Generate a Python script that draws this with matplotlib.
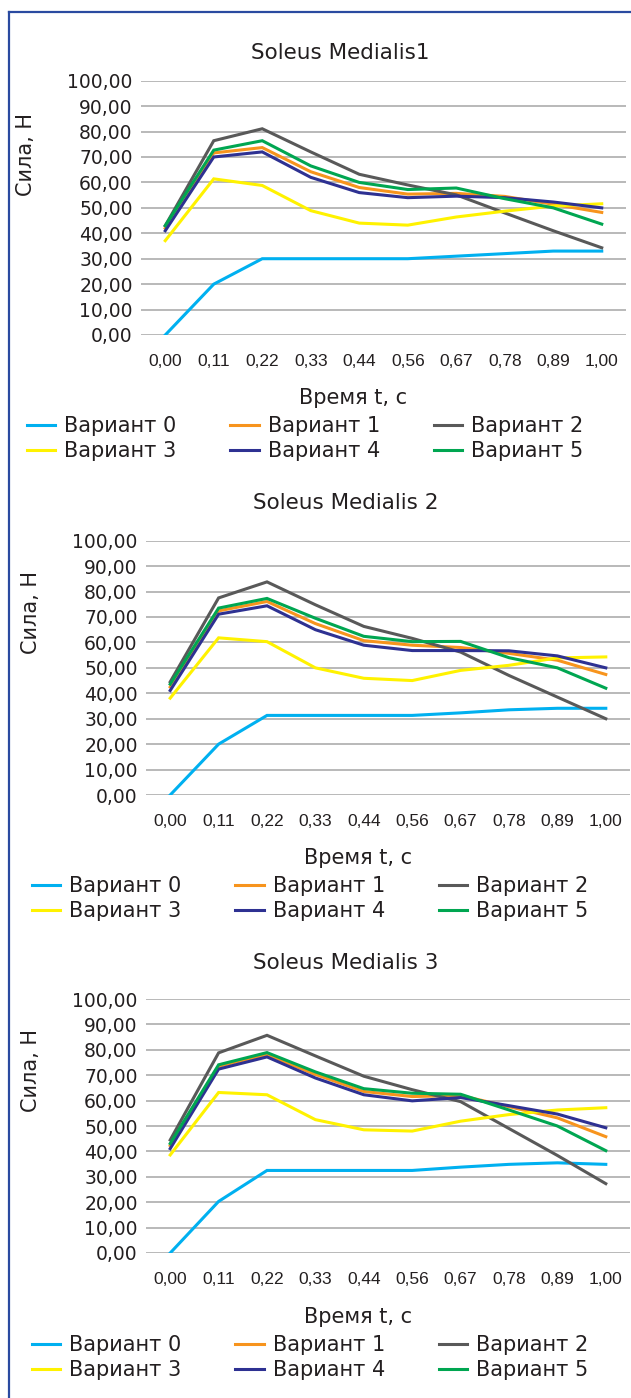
import matplotlib
matplotlib.use('Agg')
import matplotlib.pyplot as plt
from matplotlib.lines import Line2D

plt.rcParams['font.family'] = ['DejaVu Sans']

time_labels = ['0,00', '0,11', '0,22', '0,33', '0,44', '0,56', '0,67', '0,78', '0,89', '1,00']
y_ticks = [0, 10, 20, 30, 40, 50, 60, 70, 80, 90, 100]
y_tick_labels = ['0,00', '10,00', '20,00', '30,00', '40,00', '50,00',
                 '60,00', '70,00', '80,00', '90,00', '100,00']
variant_names = ['Вариант 0', 'Вариант 1', 'Вариант 2', 'Вариант 3', 'Вариант 4', 'Вариант 5']
titles = ['Soleus Medialis1', 'Soleus Medialis 2', 'Soleus Medialis 3']

# Soleus Medialis 1
sm1_v0 = [0, 20, 30, 30, 30, 30, 31, 32, 33, 33]
sm1_v1 = [42, 71.6, 73.7, 64.2, 58, 55.4, 55.7, 54.5, 51.4, 48.2]
sm1_v2 = [43, 76.4, 81.1, 72, 63.2, 59, 55.1, 48, 41, 34.3]
sm1_v3 = [37.1, 61.4, 58.8, 48.9, 44, 43.2, 46.4, 48.7, 50.7, 51.6]
sm1_v4 = [41, 70, 72, 62, 56, 54, 54.6, 54, 52.3, 50]
sm1_v5 = [43, 72.7, 76.4, 66.5, 60, 57.2, 57.8, 53.6, 50, 43.6]

# Soleus Medialis 2
sm2_v0 = [0, 20, 31.3, 31.3, 31.3, 31.3, 32.3, 33.5, 34.1, 34.1]
sm2_v1 = [42.5, 72.4, 76.1, 67.4, 60.7, 58.9, 58, 55.7, 53, 47.4]
sm2_v2 = [44.5, 77.5, 83.8, 74.8, 66.3, 61.6, 56.2, 47, 38.5, 30]
sm2_v3 = [38.1, 61.8, 60.3, 50, 45.9, 45, 49, 51, 53.9, 54.3]
sm2_v4 = [41.1, 71.1, 74.4, 65, 58.9, 56.8, 56.8, 56.7, 54.7, 50]
sm2_v5 = [43.6, 73.5, 77.3, 69.5, 62.4, 60.3, 60.4, 54, 50, 42]

# Soleus Medialis 3
sm3_v0 = [0, 20.3, 32.5, 32.5, 32.5, 32.5, 33.8, 34.9, 35.5, 34.9]
sm3_v1 = [42.3, 73.5, 78.1, 70.3, 63.6, 61.6, 62, 57.6, 53.2, 45.8]
sm3_v2 = [44.5, 78.8, 85.7, 77.6, 69.6, 64.3, 59.6, 49, 38.4, 27.3]
sm3_v3 = [38.6, 63.2, 62.3, 52.5, 48.5, 48, 51.9, 54.5, 56.3, 57.2]
sm3_v4 = [41.1, 72.4, 77.2, 68.9, 62.3, 59.9, 61.2, 58, 54.7, 49.3]
sm3_v5 = [43.1, 74.1, 78.9, 71.3, 64.7, 62.9, 62.5, 56.3, 50, 40.3]

panels = [
    [sm1_v0, sm1_v1, sm1_v2, sm1_v3, sm1_v4, sm1_v5],
    [sm2_v0, sm2_v1, sm2_v2, sm2_v3, sm2_v4, sm2_v5],
    [sm3_v0, sm3_v1, sm3_v2, sm3_v3, sm3_v4, sm3_v5],
]
colors = ['#00b0f0', '#f7941d', '#595959', '#fff200', '#2e3192', '#00a651']

W, H = 631, 1398
fig = plt.figure(figsize=(W / 100, H / 100), dpi=100)

def fx(px):
    return px / W

def fy(py):
    return 1 - py / H

# layout in pixels: (left, right, top of 100, bottom at 0, title y, title x, xlabel x, xlabel y, ylabel x, ylabel y, legend x, legend top)
layout = [
    (141, 626, 80.7, 335, 53, 340, 353, 398, 26, 155, 27, 416),
    (146, 630, 540.7, 795, 503, 346, 358, 858, 31, 613, 32, 876),
    (146, 630, 999, 1253, 963, 346, 358, 1317, 31, 1070, 32, 1335),
]

for series, title, lay in zip(panels, titles, layout):
    left, right, top, bottom, ty, tx, xlx, xly, ylx, yly, lgx, lgy = lay
    ax = fig.add_axes([fx(left), fy(bottom), (right - left) / W, (bottom - top) / H])
    lines = []
    for vals, c, name in zip(series, colors, variant_names):
        ln, = ax.plot(range(len(time_labels)), vals, color=c, lw=2.2, label=name,
                      solid_joinstyle='miter')
        lines.append(ln)
    ax.set_xlim(-0.5, len(time_labels) - 0.5)
    ax.set_ylim(0, 100)
    ax.set_yticks(y_ticks)
    ax.set_yticklabels(y_tick_labels, fontsize=13.5, color='#231f20')
    ax.set_xticks(range(len(time_labels)))
    ax.set_xticklabels(time_labels, fontsize=12.5, color='#231f20',
                       family=['Liberation Sans Narrow', 'Liberation Sans', 'DejaVu Sans'])
    ax.tick_params(axis='y', length=0, pad=6)
    ax.tick_params(axis='x', length=0, pad=14)
    ax.grid(axis='y', color='#a6a6a6', lw=1.1)
    ax.set_axisbelow(True)
    for s in ax.spines.values():
        s.set_visible(False)

    fig.text(fx(tx), fy(ty), title, ha='center', va='center', fontsize=15.5, color='#231f20')
    fig.text(fx(xlx), fy(xly), 'Время t, с', ha='center', va='center', fontsize=15, color='#231f20')
    fig.text(fx(ylx), fy(yly), 'Сила, Н', ha='center', va='center', rotation=90,
             fontsize=15, color='#231f20')

    order = [0, 3, 1, 4, 2, 5]
    fig.legend([lines[i] for i in order], [variant_names[i] for i in order],
               loc='upper left', bbox_to_anchor=(fx(lgx), fy(lgy)), ncol=3,
               frameon=False, fontsize=15, borderpad=0, borderaxespad=0,
               handlelength=1.35, handletextpad=0.43, columnspacing=2.6,
               labelspacing=0.24, labelcolor='#231f20')

# blue frame on left and top
frame_c = '#2a4aa0'
fig.add_artist(Line2D([fx(9), fx(9)], [0, fy(12)], transform=fig.transFigure, color=frame_c, lw=1.6))
fig.add_artist(Line2D([fx(9), 1], [fy(12), fy(12)], transform=fig.transFigure, color=frame_c, lw=1.6))

fig.savefig('out.png', dpi=100)
